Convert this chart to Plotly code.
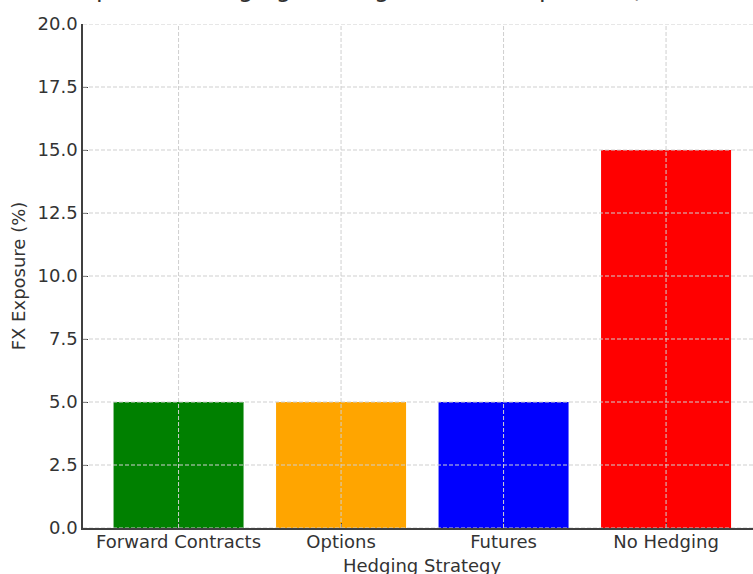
import plotly.graph_objects as go

# Hedging strategies and their residual FX exposure (%)
strategies = ["Forward Contracts", "Options", "Futures", "No Hedging"]
exposure = [5, 5, 5, 15]
bar_colors = ["#008000", "#FFA500", "#0000FF", "#FF0000"]
y_ticks = [0, 2.5, 5, 7.5, 10, 12.5, 15, 17.5, 20]

FONT = "DejaVu Sans"
TEXT = "#333333"
GRID = "#cfcfcf"

fig = go.Figure(
    go.Bar(
        x=strategies,
        y=exposure,
        width=0.8,
        marker=dict(color=bar_colors, line=dict(width=0)),
    )
)

# Dashed grid drawn on top of the bars
shapes = []
for v in y_ticks:
    shapes.append(dict(type="line", xref="paper", yref="y", x0=0, x1=1, y0=v, y1=v,
                       line=dict(color=GRID, width=1, dash="4px,2px"), layer="above"))
for s in strategies:
    shapes.append(dict(type="line", xref="x", yref="paper", x0=s, x1=s, y0=0, y1=1,
                       line=dict(color=GRID, width=1, dash="4px,2px"), layer="above"))

fig.update_layout(
    width=753,
    height=574,
    margin=dict(l=83, r=0, t=24, b=46),
    paper_bgcolor="white",
    plot_bgcolor="white",
    showlegend=False,
    font=dict(family=FONT, size=18, color=TEXT),
    shapes=shapes,
    annotations=[
        # chart title, centred over the axes
        dict(
            text="Impact of Hedging Strategies on FX Exposure (Illustrative)",
            xref="x", yref="paper", x=1.5, y=1,
            xanchor="center", yanchor="bottom", yshift=19,
            showarrow=False, font=dict(family=FONT, size=24.5, color=TEXT),
        ),
        # x-axis label, centred under the axes
        dict(
            text="Hedging Strategy",
            xref="x", yref="paper", x=1.5, y=0,
            xanchor="center", yanchor="top", yshift=-25,
            showarrow=False, font=dict(family=FONT, size=18, color=TEXT),
        ),
    ],
    xaxis=dict(
        type="category",
        range=[-0.588, 3.535],
        automargin=False,
        showgrid=False,
        showline=True, linecolor="#404040", linewidth=1.5,
        ticks="inside", ticklen=5, tickwidth=1.2, tickcolor="#404040",
        layer="above traces",
        ticklabelstandoff=-3,
        tickfont=dict(size=18),
    ),
    yaxis=dict(
        range=[0, 20],
        tickvals=y_ticks,
        tickformat=".1f",
        automargin=False,
        showgrid=False,
        zeroline=False,
        showline=True, linecolor="#404040", linewidth=1.5,
        ticks="inside", ticklen=5, tickwidth=1.2, tickcolor="#404040",
        layer="above traces",
        title=dict(text="FX Exposure (%)", standoff=7, font=dict(size=18)),
        tickfont=dict(size=18),
    ),
)

fig.write_html("out.html")
